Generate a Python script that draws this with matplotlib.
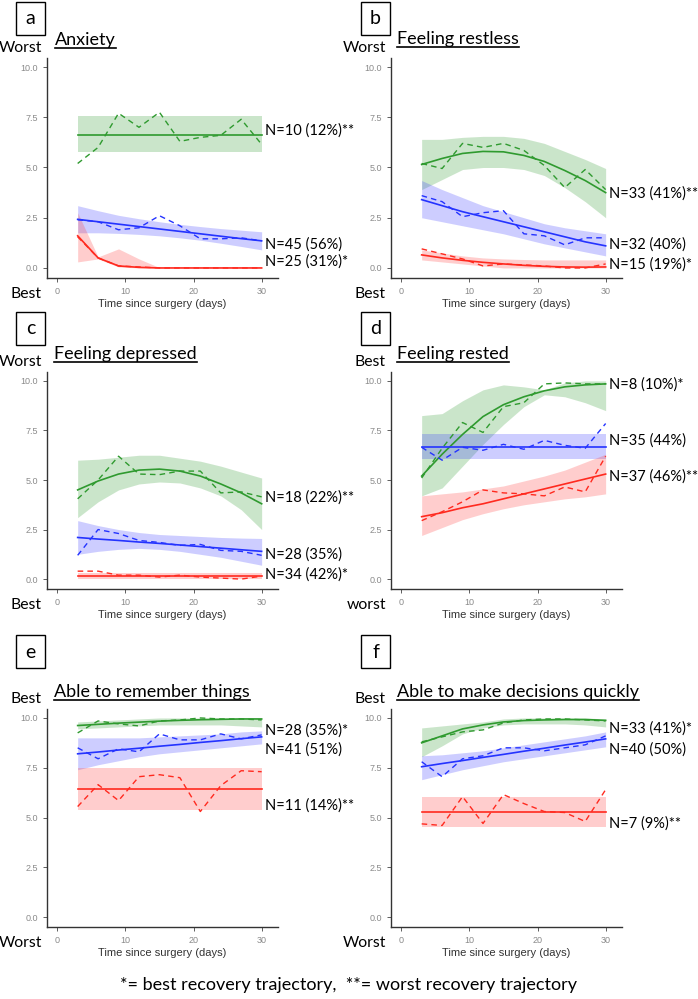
import matplotlib
matplotlib.use("Agg")
import matplotlib.pyplot as plt
from matplotlib.lines import Line2D
from matplotlib.patches import Rectangle

W, H = 698, 999

# days at which trajectories were evaluated
days = [3, 6, 9, 12, 15, 18, 21, 24, 27, 30]

# each panel: [green, blue, red]
a_fit = [[6.62, 6.62, 6.62, 6.62, 6.62, 6.62, 6.62, 6.62, 6.62, 6.62],
         [2.42, 2.3, 2.18, 2.06, 1.94, 1.82, 1.7, 1.58, 1.46, 1.35],
         [1.6, 0.5, 0.1, 0.03, 0.0, 0.0, 0.0, 0.0, 0.0, 0.0]]
a_lo = [[5.75, 5.75, 5.75, 5.75, 5.75, 5.75, 5.75, 5.75, 5.75, 5.75],
        [1.75, 1.75, 1.72, 1.67, 1.6, 1.5, 1.38, 1.23, 1.07, 0.9],
        [0.3, 0.45, 0.05, 0.0, 0.0, 0.0, 0.0, 0.0, 0.0, 0.0]]
a_hi = [[7.57, 7.57, 7.57, 7.57, 7.57, 7.57, 7.57, 7.57, 7.57, 7.57],
        [3.1, 2.85, 2.62, 2.45, 2.3, 2.17, 2.06, 1.96, 1.88, 1.8],
        [2.75, 0.55, 0.95, 0.45, 0.02, 0.0, 0.0, 0.0, 0.0, 0.0]]
a_obs = [[5.2, 6.0, 7.7, 7.0, 7.75, 6.3, 6.5, 6.6, 7.4, 6.15],
         [2.4, 2.3, 1.9, 2.0, 2.6, 2.1, 1.45, 1.45, 1.5, 1.35],
         [1.55, 0.5, 0.1, 0.05, 0.0, 0.0, 0.0, 0.0, 0.0, 0.0]]

b_fit = [[5.15, 5.45, 5.7, 5.8, 5.78, 5.6, 5.3, 4.85, 4.35, 3.75],
         [3.4, 3.1, 2.8, 2.55, 2.3, 2.05, 1.8, 1.55, 1.3, 1.1],
         [0.65, 0.5, 0.38, 0.28, 0.2, 0.13, 0.08, 0.05, 0.04, 0.05]]
b_lo = [[3.9, 4.4, 4.9, 5.0, 5.0, 4.9, 4.6, 4.0, 3.3, 2.5],
        [2.5, 2.3, 2.1, 1.9, 1.7, 1.45, 1.2, 1.0, 0.8, 0.6],
        [0.4, 0.3, 0.2, 0.1, 0.0, 0.0, 0.0, 0.0, 0.0, 0.0]]
b_hi = [[6.4, 6.4, 6.5, 6.55, 6.55, 6.45, 6.2, 5.8, 5.4, 4.95],
        [4.35, 3.9, 3.5, 3.1, 2.8, 2.5, 2.2, 2.0, 1.85, 1.7],
        [0.9, 0.75, 0.6, 0.5, 0.45, 0.42, 0.4, 0.4, 0.4, 0.4]]
b_obs = [[5.2, 4.95, 6.2, 6.0, 6.2, 5.85, 5.1, 4.0, 4.9, 3.9],
         [3.6, 3.3, 2.55, 2.75, 2.85, 1.7, 1.6, 1.15, 1.5, 1.5],
         [0.95, 0.7, 0.45, 0.1, 0.2, 0.15, 0.1, 0.0, 0.0, 0.2]]

c_fit = [[4.5, 4.95, 5.3, 5.5, 5.55, 5.45, 5.2, 4.8, 4.35, 3.8],
         [2.1, 2.02, 1.95, 1.87, 1.8, 1.72, 1.64, 1.56, 1.48, 1.4],
         [0.15, 0.15, 0.15, 0.15, 0.15, 0.15, 0.15, 0.15, 0.15, 0.15]]
c_lo = [[3.1, 3.9, 4.5, 4.8, 4.9, 4.85, 4.6, 4.2, 3.5, 2.5],
        [1.25, 1.4, 1.5, 1.55, 1.5, 1.4, 1.25, 1.1, 0.9, 0.7],
        [0.0, 0.0, 0.0, 0.0, 0.0, 0.0, 0.0, 0.0, 0.0, 0.0]]
c_hi = [[6.0, 6.05, 6.15, 6.25, 6.25, 6.1, 5.95, 5.7, 5.4, 5.1],
        [2.95, 2.7, 2.5, 2.35, 2.25, 2.2, 2.15, 2.1, 2.07, 2.05],
        [0.33, 0.33, 0.33, 0.33, 0.33, 0.33, 0.33, 0.33, 0.33, 0.33]]
c_obs = [[4.05, 5.0, 6.2, 5.3, 5.27, 5.45, 5.45, 4.35, 4.4, 4.15],
         [1.2, 2.5, 2.3, 1.95, 1.85, 1.7, 1.75, 1.45, 1.4, 1.2],
         [0.4, 0.4, 0.2, 0.2, 0.1, 0.2, 0.1, 0.05, 0.0, 0.15]]

d_fit = [[5.2, 6.3, 7.3, 8.2, 8.8, 9.2, 9.5, 9.7, 9.8, 9.85],
         [6.65, 6.65, 6.65, 6.65, 6.65, 6.65, 6.65, 6.65, 6.65, 6.65],
         [3.15, 3.35, 3.6, 3.8, 4.05, 4.3, 4.55, 4.8, 5.05, 5.3]]
d_lo = [[4.2, 4.6, 5.7, 6.8, 7.8, 8.7, 9.3, 9.2, 8.9, 8.5],
        [6.05, 6.05, 6.05, 6.05, 6.05, 6.05, 6.05, 6.05, 6.05, 6.05],
        [2.2, 2.6, 3.0, 3.3, 3.55, 3.75, 3.9, 4.05, 4.15, 4.3]]
d_hi = [[8.25, 8.35, 9.0, 9.55, 9.8, 9.7, 9.55, 9.9, 10.0, 10.0],
        [7.3, 7.3, 7.3, 7.3, 7.3, 7.3, 7.3, 7.3, 7.3, 7.3],
        [4.2, 4.3, 4.4, 4.55, 4.7, 4.95, 5.2, 5.5, 5.9, 6.3]]
d_obs = [[5.1, 6.6, 7.9, 7.4, 8.7, 8.9, 9.85, 9.9, 9.85, 9.85],
         [6.65, 6.0, 6.65, 6.5, 6.8, 6.55, 7.0, 6.75, 6.6, 7.85],
         [2.95, 3.4, 3.9, 4.5, 4.35, 4.3, 4.2, 4.65, 4.4, 6.2]]

e_fit = [[9.62, 9.68, 9.74, 9.79, 9.84, 9.88, 9.91, 9.93, 9.95, 9.95],
         [8.2, 8.29, 8.39, 8.48, 8.58, 8.67, 8.77, 8.86, 8.96, 9.05],
         [6.45, 6.45, 6.45, 6.45, 6.45, 6.45, 6.45, 6.45, 6.45, 6.45]]
e_lo = [[9.45, 9.5, 9.55, 9.6, 9.65, 9.65, 9.65, 9.65, 9.6, 9.55],
        [7.4, 7.65, 7.85, 8.05, 8.2, 8.3, 8.4, 8.5, 8.6, 8.7],
        [5.4, 5.4, 5.4, 5.4, 5.4, 5.4, 5.4, 5.4, 5.4, 5.4]]
e_hi = [[9.8, 9.85, 9.9, 9.95, 10.0, 10.0, 10.0, 10.0, 10.0, 10.0],
        [9.0, 9.0, 9.0, 9.0, 9.05, 9.1, 9.15, 9.2, 9.3, 9.35],
        [7.5, 7.5, 7.5, 7.5, 7.5, 7.5, 7.5, 7.5, 7.5, 7.5]]
e_obs = [[9.25, 9.85, 9.7, 9.6, 9.85, 9.9, 10.0, 9.95, 9.95, 9.9],
         [8.5, 7.95, 8.45, 8.3, 9.2, 8.9, 8.9, 9.2, 8.95, 9.15],
         [5.55, 6.65, 5.85, 7.05, 7.15, 7.0, 5.3, 6.6, 7.35, 7.3]]

f_fit = [[8.75, 9.1, 9.45, 9.65, 9.8, 9.87, 9.9, 9.92, 9.92, 9.88],
         [7.55, 7.71, 7.86, 8.02, 8.17, 8.33, 8.48, 8.64, 8.79, 8.95],
         [5.28, 5.28, 5.28, 5.28, 5.28, 5.28, 5.28, 5.28, 5.28, 5.28]]
f_lo = [[8.05, 8.6, 9.2, 9.5, 9.65, 9.7, 9.7, 9.7, 9.65, 9.55],
        [6.9, 7.15, 7.4, 7.6, 7.8, 7.95, 8.1, 8.25, 8.4, 8.55],
        [4.5, 4.5, 4.5, 4.5, 4.5, 4.5, 4.5, 4.5, 4.5, 4.5]]
f_hi = [[9.5, 9.6, 9.7, 9.8, 9.95, 10.0, 10.0, 10.0, 10.0, 9.95],
        [8.1, 8.15, 8.25, 8.35, 8.5, 8.65, 8.8, 8.95, 9.1, 9.3],
        [6.05, 6.05, 6.05, 6.05, 6.05, 6.05, 6.05, 6.05, 6.05, 6.05]]
f_obs = [[8.8, 9.05, 9.3, 9.4, 9.75, 9.9, 9.95, 9.95, 9.9, 9.85],
         [7.8, 7.05, 7.95, 8.1, 8.5, 8.5, 8.35, 8.5, 8.65, 9.1],
         [4.68, 4.6, 6.05, 4.7, 6.15, 5.7, 5.3, 5.25, 4.8, 6.4]]

letters = ["a", "b", "c", "d", "e", "f"]
titles = ["Anxiety", "Feeling restless", "Feeling depressed", "Feeling rested",
          "Able to remember things", "Able to make decisions quickly"]
top_words = ["Worst", "Worst", "Worst", "Best", "Best", "Best"]
bottom_words = ["Best", "Best", "Best", "worst", "Worst", "Worst"]
n_labels = [["N=10 (12%)**", "N=45 (56%)", "N=25 (31%)*"],
            ["N=33 (41%)**", "N=32 (40%)", "N=15 (19%)*"],
            ["N=18 (22%)**", "N=28 (35%)", "N=34 (42%)*"],
            ["N=8 (10%)*", "N=35 (44%)", "N=37 (46%)**"],
            ["N=28 (35%)*", "N=41 (51%)", "N=11 (14%)**"],
            ["N=33 (41%)*", "N=40 (50%)", "N=7 (9%)**"]]
label_y = [[6.86, 1.16, 0.33], [3.72, 1.16, 0.17], [4.1, 1.24, 0.25],
           [9.83, 6.97, 5.17], [9.39, 8.4, 5.62], [9.46, 8.43, 4.71]]

fits = [a_fit, b_fit, c_fit, d_fit, e_fit, f_fit]
los = [a_lo, b_lo, c_lo, d_lo, e_lo, f_lo]
his = [a_hi, b_hi, c_hi, d_hi, e_hi, f_hi]
obss = [a_obs, b_obs, c_obs, d_obs, e_obs, f_obs]

line_cols = ["#2f9a2f", "#2433ff", "#ff2a1f"]
band_cols = ["#2f9a2f", "#3a3aff", "#ff3a3a"]

LBL = ["Lato", "DejaVu Sans"]
TICK = ["Liberation Sans", "DejaVu Sans"]

fig = plt.figure(figsize=(W / 100, H / 100), dpi=100)


def fx(px):
    return px / W


def fy(py):
    return 1 - py / H


# pixel layout of each panel: axes left, right, top, bottom; box top
lefts = [47, 391]
rows = [(58, 278, 2), (372, 589, 312), (709, 927, 635)]

axes = []
for i in range(6):
    col, row = i % 2, i // 2
    l = lefts[col]
    r = l + 231
    t, b, boxtop = rows[row]
    ax = fig.add_axes([fx(l), fy(b), fx(r) - fx(l), (b - t) / H])
    axes.append(ax)

    for g in range(3):
        ax.fill_between(days, los[i][g], his[i][g], color=band_cols[g], alpha=0.25, lw=0)
    for g in range(3):
        ax.plot(days, fits[i][g], color=line_cols[g], lw=1.2)
        ax.plot(days, obss[i][g], color=line_cols[g], lw=1.0, ls=(0, (4, 3)))
        ax.text(30.5, label_y[i][g], n_labels[i][g], fontsize=10.5, family=LBL,
                va="center", ha="left", clip_on=False)

    ax.set_xlim(-1.5, 32.4)
    ax.set_ylim(-0.5, 10.45)
    ax.set_xticks([0, 10, 20, 30])
    ax.set_yticks([0, 2.5, 5, 7.5, 10])
    ax.set_yticklabels(["0.0", "2.5", "5.0", "7.5", "10.0"])
    for s in ["top", "right"]:
        ax.spines[s].set_visible(False)
    for s in ["left", "bottom"]:
        ax.spines[s].set_color("#333333")
        ax.spines[s].set_linewidth(1.0)
    ax.tick_params(colors="#444444", labelcolor="#8a8a8a", length=3, width=0.6, labelsize=6.5)
    for lab in ax.get_xticklabels() + ax.get_yticklabels():
        lab.set_family(TICK)
    ax.set_xlabel("Time since surgery (days)", fontsize=8, family=TICK, color="#333333", labelpad=2)
    ax.patch.set_alpha(0)

    # letter box
    bx = 16 if col == 0 else 361
    fig.add_artist(Rectangle((fx(bx), fy(boxtop + 33)), 29 / W, 33 / H,
                             transform=fig.transFigure, fill=False, ec="black", lw=1.0))
    fig.text(fx(bx + 14.5), fy(boxtop + 17), letters[i], fontsize=14, family=LBL,
             ha="center", va="center")

    # Worst / Best words
    wx = 42 if col == 0 else 386
    fig.text(fx(wx), fy(t - 10), top_words[i], fontsize=11.3, family=LBL, ha="right", va="center")
    fig.text(fx(wx), fy(b + 16), bottom_words[i], fontsize=11.3, family=LBL, ha="right", va="center")

fig.text(0.5, fy(985), "*= best recovery trajectory,  **= worst recovery trajectory",
         fontsize=13, family=LBL, ha="center", va="center")

# underlined panel titles
title_pos = [(55, 45), (397, 44), (54, 359), (397, 359), (54, 697), (397, 697)]
title_texts = []
for i in range(6):
    x, y = title_pos[i]
    title_texts.append(fig.text(fx(x), fy(y), titles[i], fontsize=13, family=LBL,
                                ha="left", va="baseline"))
fig.canvas.draw()
inv = fig.transFigure.inverted()
for i, txt in enumerate(title_texts):
    bb = txt.get_window_extent().transformed(inv)
    yu = fy(title_pos[i][1] + 3)
    fig.add_artist(Line2D([bb.x0, bb.x1], [yu, yu], color="black", lw=1.2,
                          transform=fig.transFigure))

fig.savefig("out.png", dpi=100)
